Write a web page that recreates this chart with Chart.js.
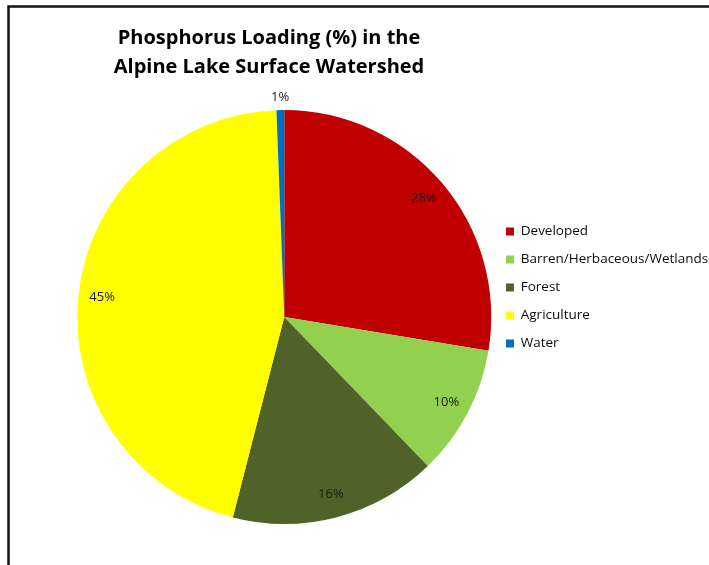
<!DOCTYPE html>
<html><head><meta charset="utf-8">
<script src="https://cdn.jsdelivr.net/npm/chart.js@4/dist/chart.umd.min.js"></script>
<style>html,body{margin:0;padding:0;background:#fff;overflow:hidden}#wrap{position:relative;width:709px;height:565px}canvas{display:block}</style>
</head><body><div id="wrap"><canvas id="c" width="709" height="565"></canvas></div>
<script>
const categories = ['Developed', 'Barren/Herbaceous/Wetlands', 'Forest', 'Agriculture', 'Water'];
const loadingPercent = [27.6, 10.2, 16.2, 45.4, 0.6];
const sliceColors = ['#C00000', '#92D050', '#4F6228', '#FFFF00', '#0070C0'];
const titleLines = ['Phosphorus Loading (%) in the', 'Alpine Lake Surface Watershed'];

const LEGEND_SIZE = 13.5;
const mctx = document.createElement('canvas').getContext('2d');
mctx.font = LEGEND_SIZE + 'px "Open Sans"';
let maxText = 0;
categories.forEach(t => { maxText = Math.max(maxText, mctx.measureText(t).width); });
// legend left edge should sit at x=491 (pie right edge)
const legendWidth = 15 + 8 + LEGEND_SIZE / 2 + maxText + 10;
const padRight = 709 - 491 - legendWidth;

const framePlugin = {
  id: 'frameTitle',
  afterDraw(chart) {
    const ctx = chart.ctx;
    ctx.save();
    ctx.strokeStyle = '#111';
    ctx.lineWidth = 2.5;
    ctx.beginPath();
    ctx.moveTo(720, 6.5);
    ctx.lineTo(8.5, 6.5);
    ctx.lineTo(8.5, 580);
    ctx.stroke();
    ctx.fillStyle = '#000';
    ctx.font = 'bold 20px "Open Sans"';
    ctx.textAlign = 'center';
    ctx.textBaseline = 'alphabetic';
    ctx.fillText(titleLines[0], 269, 44);
    ctx.fillText(titleLines[1], 269, 73);
    ctx.restore();
  }
};

const labelPlugin = {
  id: 'sliceLabels',
  afterDatasetsDraw(chart) {
    const ctx = chart.ctx;
    const meta = chart.getDatasetMeta(0);
    const total = loadingPercent.reduce((a, b) => a + b, 0);
    ctx.save();
    ctx.font = '13px "Open Sans"';
    ctx.fillStyle = '#1a1a1a';
    ctx.textAlign = 'center';
    ctx.textBaseline = 'middle';
    meta.data.forEach((el, i) => {
      const v = loadingPercent[i];
      const mid = (el.startAngle + el.endAngle) / 2;
      const share = v / total * 100;
      const r = share < 2 ? el.outerRadius + 13 : el.outerRadius * 0.885;
      const x = el.x + Math.cos(mid) * r;
      const y = el.y + Math.sin(mid) * r;
      ctx.fillText(Math.round(v) + '%', x, y);
    });
    ctx.restore();
  }
};

new Chart(document.getElementById('c'), {
  type: 'pie',
  data: {
    labels: categories,
    datasets: [{
      data: loadingPercent,
      backgroundColor: sliceColors,
      borderWidth: 0
    }]
  },
  options: {
    responsive: false,
    animation: false,
    events: [],
    radius: 207,
    layout: { padding: { left: 77, right: padRight, top: 110, bottom: 41 } },
    plugins: {
      tooltip: { enabled: false },
      title: { display: false },
      legend: {
        position: 'right',
        align: 'start',
        title: { display: true, text: ' ', font: { size: 12, lineHeight: 1.2 }, padding: { top: 85.85, bottom: 0 } },
        labels: {
          boxWidth: 8,
          boxHeight: 8,
          padding: 14.5,
          color: '#0d0d0d',
          font: { family: '"Open Sans"', size: LEGEND_SIZE }
        }
      }
    }
  },
  plugins: [framePlugin, labelPlugin]
});
</script>
</body></html>
